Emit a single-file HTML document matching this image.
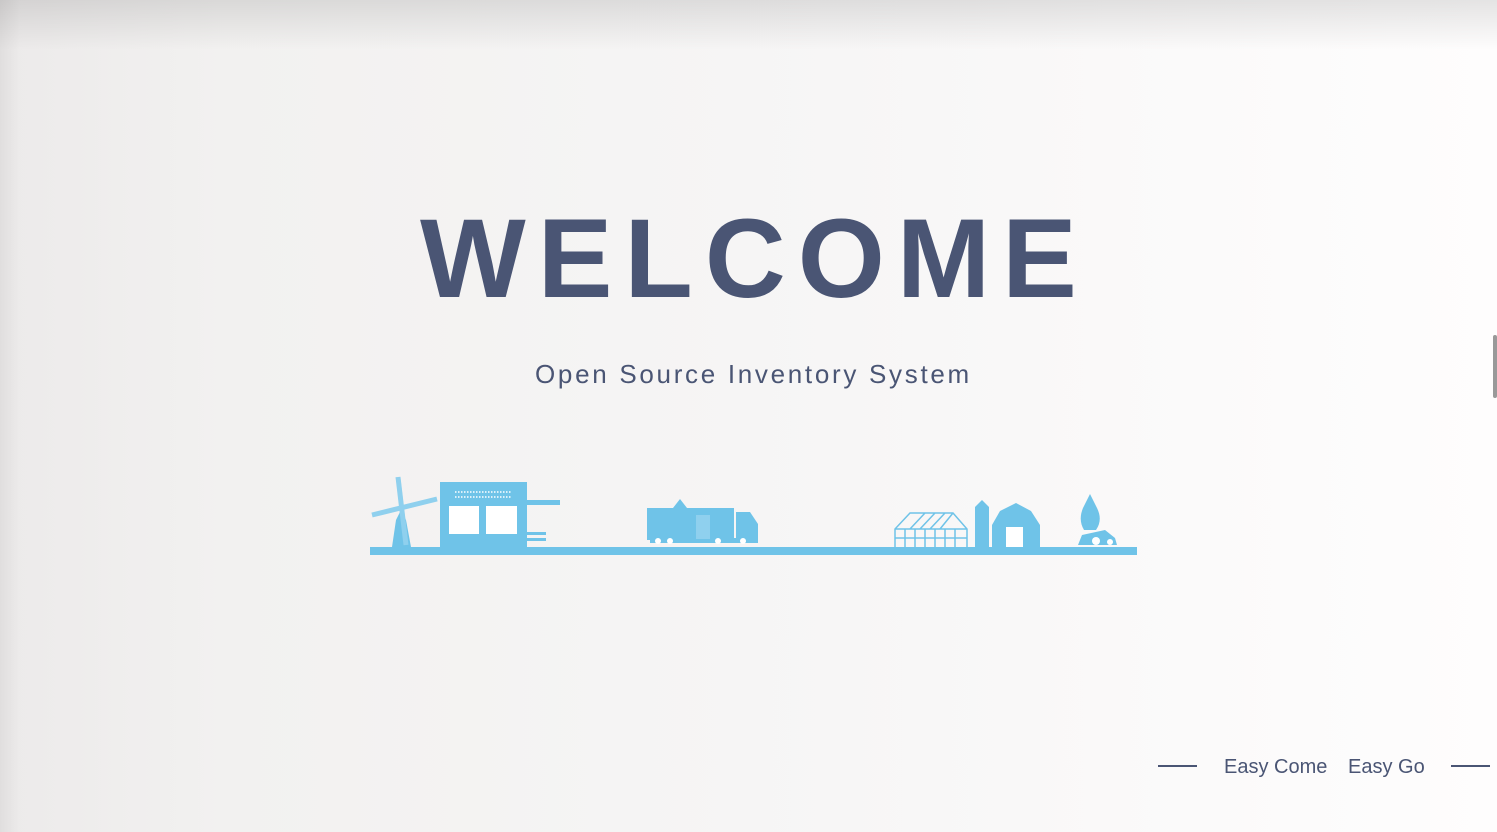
<!DOCTYPE html>
<html><head><meta charset="utf-8"><style>
html,body{margin:0;padding:0;width:1497px;height:832px;overflow:hidden;}
body{position:relative;background:linear-gradient(90deg,#eceaea 0%,#f2f1f0 15%,#f6f5f5 50%,#fbfafa 80%,#fefdfd 100%);font-family:"Liberation Sans",sans-serif;}
.top{position:absolute;left:0;top:0;width:1497px;height:50px;background:linear-gradient(180deg,rgba(0,0,0,0.10),rgba(0,0,0,0));}
.left{position:absolute;left:0;top:0;width:20px;height:832px;background:linear-gradient(90deg,rgba(0,0,0,0.05),rgba(0,0,0,0));}
.w{position:absolute;left:420px;top:189px;font-size:112px;font-weight:bold;color:#4a5574;letter-spacing:12px;line-height:140px;white-space:nowrap;}
.s{position:absolute;left:535px;top:359px;font-size:26px;color:#4a5574;letter-spacing:2.7px;white-space:nowrap;}
.e{position:absolute;top:756px;font-size:20px;color:#4a5574;white-space:nowrap;}
.l{position:absolute;top:765px;height:1.5px;background:#4a5574;width:39px;}
.sb{position:absolute;left:1493px;top:335px;width:4px;height:63px;background:#999;border-radius:2px;}
</style></head><body>
<div class="top"></div><div class="left"></div>
<div class="w">WELCOME</div>
<div class="s">Open Source Inventory System</div>
<svg style="position:absolute;left:0;top:0" width="1497" height="832">
<g fill="#6fc3e8">
<rect x="370" y="547" width="767" height="8"/>
<polygon points="392,547 396,520 401,510 406,520 411,547"/>
<g stroke="#8fd0ee" stroke-width="5"><line x1="398" y1="477" x2="406" y2="545"/><line x1="372" y1="515" x2="437" y2="499"/></g>
<rect x="440" y="482" width="87" height="65"/>
<rect x="527" y="500" width="33" height="5"/>
<rect x="527" y="532" width="19" height="3"/><rect x="527" y="538" width="19" height="3"/>
<rect x="647" y="508" width="87" height="32"/>
<polygon points="673,508 680,499 687,508"/>
<path d="M736 512 h14 l8 12 v16 h-22z"/>
<rect x="650" y="538" width="108" height="5"/>
<g fill="none" stroke="#6fc3e8" stroke-width="1.5"><path d="M895 547 V529 L910 513 H953 L967 529 V547 M895 529 H967 M905 529V547 M915 529V547 M925 529V547 M935 529V547 M945 529V547 M955 529V547 M895 538 H967 M910 529 L925 513 M920 529 L935 513 M930 529 L945 513 M940 529 L953 513"/></g>
<path d="M975 547 V507 L982 500 L989 507 V547z"/>
<path d="M992 547 V525 L1000 511 L1016 503 L1031 511 L1040 525 V547z"/>
<path d="M1084 530 Q1078 520 1083 508 L1090 494 L1097 508 Q1103 520 1096 530z"/>
<path d="M1078 545 L1082 535 L1105 530 L1115 538 L1117 545z"/>
</g>
<g fill="#fff"><rect x="449" y="506" width="30" height="28"/><rect x="486" y="506" width="31" height="28"/>
<rect x="696" y="515" width="14" height="24" fill="#8fd0ee"/>
<rect x="1006" y="527" width="17" height="20"/>
<circle cx="658" cy="541" r="3"/><circle cx="670" cy="541" r="3"/><circle cx="718" cy="541" r="3"/><circle cx="743" cy="541" r="3"/>
<circle cx="1096" cy="541" r="4"/><circle cx="1110" cy="542" r="3"/></g>
<g fill="none" stroke="#fff" stroke-width="1.5" stroke-dasharray="1.5 1.5"><line x1="455" y1="492" x2="512" y2="492"/><line x1="455" y1="497" x2="512" y2="497"/></g>
</svg>
<div class="l" style="left:1158px"></div>
<div class="e" style="left:1224px">Easy Come</div>
<div class="e" style="left:1348px">Easy Go</div>
<div class="l" style="left:1451px"></div>
<div class="sb"></div>
</body></html>
